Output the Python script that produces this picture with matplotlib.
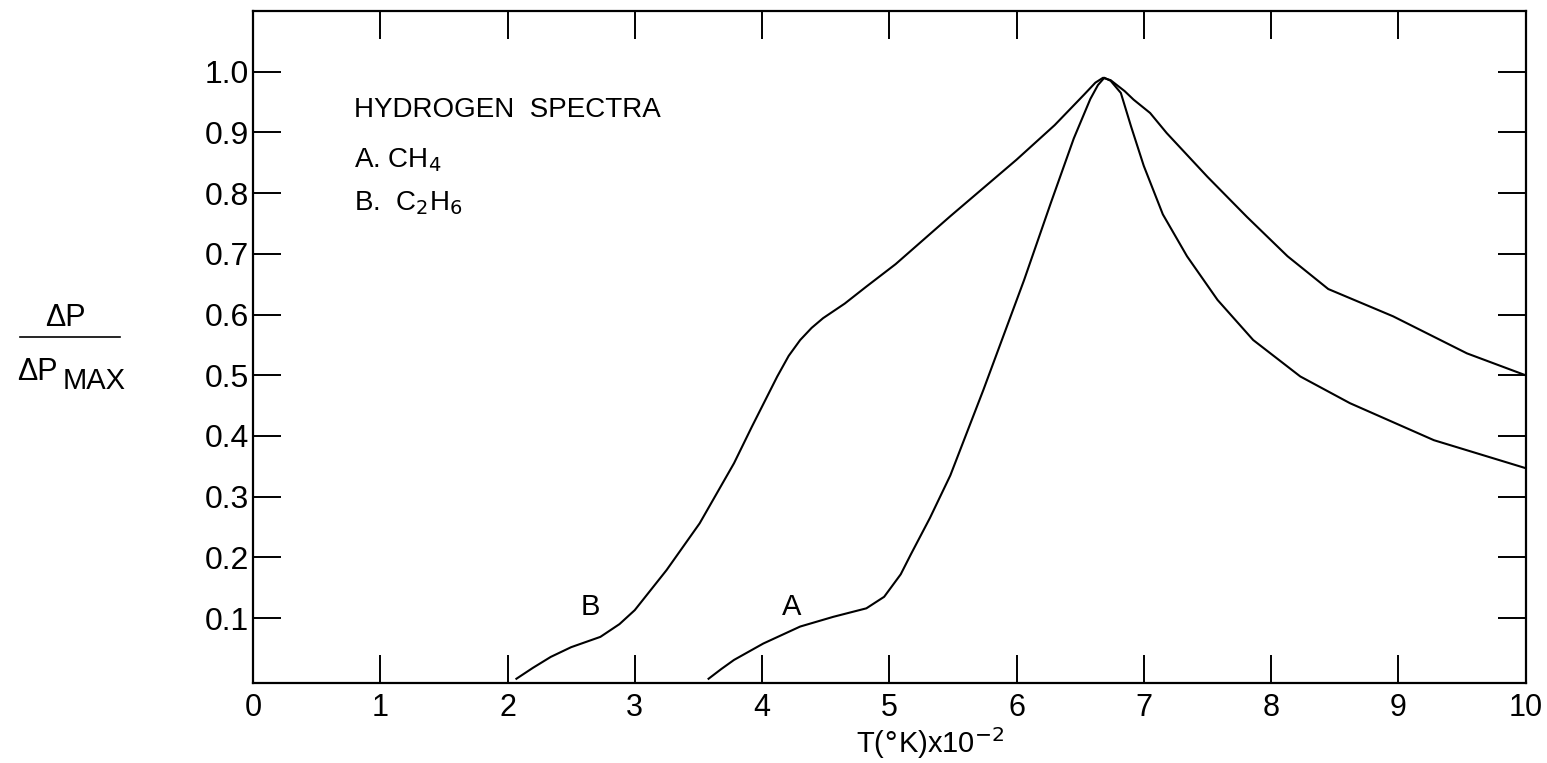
import numpy as np
import matplotlib
matplotlib.use("Agg")
import matplotlib.pyplot as plt
from matplotlib.lines import Line2D

plt.rcParams['font.family'] = ['Liberation Sans', 'DejaVu Sans']

# curve A: CH4
a_t = [3.58, 3.68, 3.78, 4.01, 4.3, 4.56, 4.82, 4.96, 5.09, 5.17, 5.32, 5.48, 5.74,
       6.06, 6.27, 6.45, 6.58, 6.64, 6.69, 6.74, 6.82, 6.9, 7.0, 7.15, 7.34,
       7.58, 7.86, 8.23, 8.62, 9.28, 10.0]
a_p = [0.0, 0.016, 0.031, 0.058, 0.086, 0.102, 0.116, 0.135, 0.172, 0.205, 0.265, 0.335, 0.476,
       0.657, 0.784, 0.89, 0.955, 0.978, 0.99, 0.985, 0.965, 0.91, 0.845, 0.765, 0.696,
       0.624, 0.558, 0.498, 0.454, 0.393, 0.347]

# curve B: C2H6
b_t = [2.07, 2.2, 2.34, 2.5, 2.73, 2.88, 3.0, 3.25, 3.51, 3.78, 3.92, 4.12, 4.21, 4.3,
       4.39, 4.48, 4.65, 4.82, 5.05, 5.48, 6.0, 6.3, 6.53, 6.62, 6.68, 6.74, 6.85, 6.92,
       7.05, 7.18, 7.5, 7.81, 8.13, 8.45, 8.96, 9.54, 10.0]
b_p = [0.0, 0.018, 0.036, 0.052, 0.069, 0.09, 0.113, 0.179, 0.256, 0.355, 0.415, 0.498, 0.532, 0.558,
       0.578, 0.594, 0.618, 0.646, 0.683, 0.762, 0.855, 0.912, 0.962, 0.982, 0.99, 0.986, 0.968, 0.954,
       0.932, 0.899, 0.827, 0.761, 0.696, 0.642, 0.597, 0.536, 0.50]

xticks = list(range(0, 11))
yticks = [0.1, 0.2, 0.3, 0.4, 0.5, 0.6, 0.7, 0.8, 0.9, 1.0]
ylabels = ['0.1', '0.2', '0.3', '0.4', '0.5', '0.6', '0.7', '0.8', '0.9', '1.0']

W, H = 1547, 763
fig = plt.figure(figsize=(W / 100, H / 100), dpi=100)
ax = fig.add_axes([253 / W, (H - 683) / H, (1525.5 - 253) / W, (683 - 11) / H])

ax.plot(a_t, a_p, color='black', lw=1.5)
ax.plot(b_t, b_p, color='black', lw=1.5)

ax.set_xlim(0, 10)
ax.set_ylim(-0.007, 1.1)

ax.set_xticks(xticks)
ax.set_xticklabels([str(t) for t in xticks], fontsize=22)
ax.set_yticks(yticks)
ax.set_yticklabels(ylabels, fontsize=23)
ax.tick_params(axis='both', direction='in', length=20, width=1.4,
               top=True, right=True, colors='black')
ax.tick_params(axis='x', pad=7)
ax.tick_params(axis='y', pad=3)
for s in ax.spines.values():
    s.set_linewidth(1.6)

ax.set_xlabel(r'T($\degree$K)x10$^{-2}$', fontsize=21, labelpad=2)
ax.xaxis.set_label_coords(0.532, -0.062)

# key text
ax.text(0.79, 0.937, 'HYDROGEN  SPECTRA', fontsize=20, va='center', ha='left')
ax.text(0.79, 0.855, r'A. CH$_4$', fontsize=20, va='center', ha='left')
ax.text(0.79, 0.784, r'B.  C$_2$H$_6$', fontsize=20, va='center', ha='left')

# curve labels
ax.text(2.65, 0.119, 'B', fontsize=21, ha='center', va='center')
ax.text(4.235, 0.119, 'A', fontsize=21, ha='center', va='center')

# y label as a fraction
fig.text(65 / W, 1 - 318 / H, 'ΔP', fontsize=22, ha='center', va='center')
fig.add_artist(Line2D([20 / W, 120 / W], [1 - 337 / H, 1 - 337 / H],
                      color='black', lw=1.2, transform=fig.transFigure))
fig.text(17 / W, 1 - 372 / H, 'ΔP', fontsize=22, ha='left', va='center')
fig.text(63 / W, 1 - 381 / H, 'MAX', fontsize=21, ha='left', va='center')

fig.savefig('out.png', dpi=100, facecolor='white')
